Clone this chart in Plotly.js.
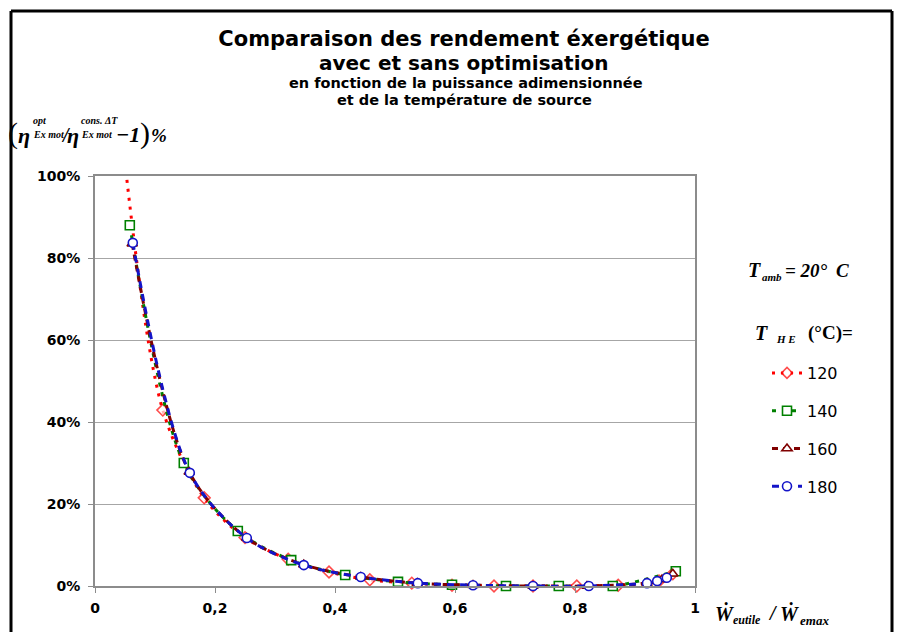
<!DOCTYPE html>
<html><head><meta charset="utf-8">
<script src="https://cdn.plot.ly/plotly-3.0.1.min.js"></script>
<style>html,body{margin:0;padding:0;background:#fff}#chart{width:903px;height:632px}</style>
</head><body><div id="chart"></div>
<script>
// ---- data ----
const seriesNames = ['120', '140', '160', '180'];
const x120 = [0.045, 0.113, 0.182, 0.250, 0.322, 0.390, 0.458, 0.528, 0.595, 0.665, 0.730, 0.803, 0.872, 0.940, 0.963];
const y120 = [110, 42.9, 21.5, 11.8, 6.5, 3.4, 1.5, 0.7, 0.2, 0.0, 0.0, 0.0, 0.2, 1.2, 3.0];
const x140 = [0.058, 0.148, 0.238, 0.327, 0.417, 0.505, 0.595, 0.685, 0.773, 0.863, 0.968];
const y140 = [88, 30, 13.4, 6.3, 2.7, 1.0, 0.3, 0.0, 0.0, 0.0, 3.6];
const x160 = [0.062, 0.157, 0.253, 0.348, 0.443, 0.537, 0.630, 0.730, 0.820, 0.920, 0.945, 0.963];
const y160 = [83.5, 27.8, 11.7, 5.2, 2.2, 0.7, 0.2, 0.0, 0.0, 0.7, 1.6, 3.0];
const x180 = [0.063, 0.158, 0.253, 0.348, 0.443, 0.538, 0.630, 0.730, 0.823, 0.920, 0.937, 0.953];
const y180 = [83.7, 27.6, 11.7, 5.1, 2.2, 0.7, 0.2, 0.0, 0.0, 0.7, 1.2, 2.0];
const xTickVals = [0, 0.2, 0.4, 0.6, 0.8, 1];
const xTickText = ['0', '0,2', '0,4', '0,6', '0,8', '1'];
const yTickVals = [0, 20, 40, 60, 80, 100];
const yTickText = ['0%', '20%', '40%', '60%', '80%', '100%'];

// ---- geometry helpers ----
const L = 95, R = 695, T = 176, B = 586, W = 903, H = 632;
const px = v => (v - L) / (R - L);
const py = v => (B - v) / (B - T);
const sans = 'DejaVu Sans';
const serif = 'Liberation Serif';

function mk(x, y, name, color, symbol, dash, width, sizes) {
  return {
    type: 'scatter', mode: 'lines+markers', x: x, y: y, name: name,
    legendgroup: name, cliponaxis: false,
    line: {color: color, width: width, dash: dash, shape: 'spline', smoothing: 0.9},
    marker: {symbol: symbol, size: sizes || 9, color: '#ffffff', line: {color: color, width: 1.6}}
  };
}
const redSizes = x120.map((v, i) => (y120[i] > 100 ? 0 : 9));
const traces = [
  mk(x120, y120, seriesNames[0], '#ff0000', 'diamond', '3px,6px', 3, redSizes),
  mk(x140, y140, seriesNames[1], '#008000', 'square', '4px,6px', 3),
  mk(x160, y160, seriesNames[2], '#800000', 'triangle-up', '6px,5px', 3),
  mk(x180, y180, seriesNames[3], '#1414c8', 'circle', '7px,6px', 3)
];

function ann(text, x, y, size, opts) {
  return Object.assign({
    text: text, x: px(x), y: py(y), xref: 'paper', yref: 'paper',
    xanchor: 'left', yanchor: 'middle', showarrow: false,
    font: {family: serif, size: size, color: '#000', weight: 'bold', style: 'italic'}
  }, opts || {});
}
function tann(text, x, y, size) {
  return {text: text, x: px(x), y: py(y), xref: 'paper', yref: 'paper', xanchor: 'center', yanchor: 'middle',
    showarrow: false, borderpad: 0, font: {family: sans, size: size, color: '#000', weight: 'bold'}};
}
const plainSerif = s => ({family: serif, size: s, color: '#000'});

const annotations = [
  tann('avec et sans optimisation', 463, 62.8, 20),
  tann('en fonction de la puissance adimensionnée', 466, 83, 14.5),
  tann('et de la température de source', 464, 100, 14.5),
  // y-axis title pieces
  ann('(', 6, 133, 30, {font: plainSerif(30)}),
  ann('η', 16, 136, 22),
  ann('opt', 31, 120.5, 10),
  ann('Ex mot', 31, 134.5, 10),
  ann('/', 59, 135, 20),
  ann('η', 65, 136, 22),
  ann('cons. ΔT', 79, 120.5, 10),
  ann('Ex mot', 79, 134.5, 10),
  ann('−1', 114, 135, 22),
  ann(')', 138, 133, 30, {font: plainSerif(30)}),
  ann('%', 149, 136, 19),
  // x-axis title pieces
  ann('Ẇ', 713, 613, 20),
  ann('eutile', 731, 620, 12),
  ann('/', 766, 613, 20),
  ann('Ẇ', 778, 613, 20),
  ann('emax', 798, 620, 13),
  // right-hand notes
  ann('T', 746, 270, 20),
  ann('amb', 760, 277, 11),
  ann('= 20°', 783, 270, 19),
  ann('C', 834, 270, 19),
  ann('T', 753, 333, 20),
  ann('H E', 774, 339, 11),
  ann('(°C)=', 806, 333, 19, {font: {family: serif, size: 19, color: '#000', weight: 'bold'}})
];

const line = (x0, y0, x1, y1) => ({type: 'line', xref: 'paper', yref: 'paper',
  x0: px(x0), y0: py(y0), x1: px(x1), y1: py(y1), line: {color: '#000', width: 3}, layer: 'above'});

const layout = {
  width: W, height: H, autosize: false,
  paper_bgcolor: '#ffffff', plot_bgcolor: '#ffffff',
  margin: {l: L, r: W - R, t: T, b: H - B, pad: 0},
  title: {text: '<b>Comparaison des rendement éxergétique</b>', font: {family: sans, size: 21, color: '#000'},
    xref: 'container', x: 464 / W, xanchor: 'center', yref: 'container', y: 1 - 39 / H, yanchor: 'middle'},
  showlegend: true,
  legend: {x: px(767), y: py(356), xanchor: 'left', yanchor: 'top', font: {family: sans, size: 16, color: '#000'},
    bgcolor: 'rgba(0,0,0,0)', tracegroupgap: 14, itemwidth: 30, traceorder: 'grouped'},
  xaxis: {range: [0, 1], showgrid: false, zeroline: false, showline: true, mirror: true,
    linecolor: '#8c8c8c', linewidth: 2, ticks: 'outside', ticklen: 5, tickcolor: '#8c8c8c', tickwidth: 1,
    tickvals: xTickVals, ticktext: xTickText, ticklabelstandoff: 3,
    tickfont: {family: sans, size: 14, color: '#000', weight: 'bold'}},
  yaxis: {range: [0, 100], showgrid: true, gridcolor: '#a6a6a6', gridwidth: 1, zeroline: false,
    showline: true, mirror: true, linecolor: '#8c8c8c', linewidth: 2, ticks: 'outside', ticklen: 5,
    tickcolor: '#8c8c8c', tickwidth: 1, tickvals: yTickVals, ticktext: yTickText, ticklabelstandoff: 5,
    tickfont: {family: sans, size: 14, color: '#000', weight: 'bold'}},
  annotations: annotations,
  shapes: [line(11, 11, 892, 11), line(11, 11, 11, 640), line(892, 11, 892, 640)]
};
Plotly.newPlot('chart', traces, layout, {staticPlot: true, displayModeBar: false});
</script></body></html>
